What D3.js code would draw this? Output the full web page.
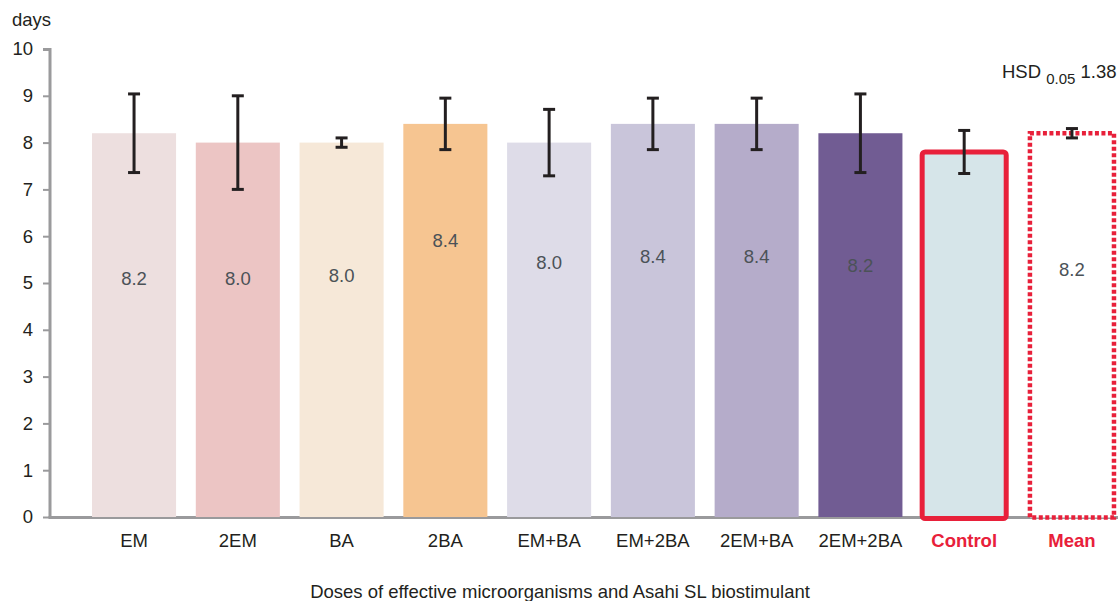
<!DOCTYPE html>
<html>
<head>
<meta charset="utf-8">
<script src="https://cdn.jsdelivr.net/npm/d3@7/dist/d3.min.js"></script>
<style>
  html, body { margin: 0; padding: 0; background: #fff; }
  svg { display: block; font-family: "Liberation Sans", Arial, sans-serif; }
</style>
</head>
<body>
<svg id="chart" width="1118" height="601"></svg>
<script>
// Treatments, mean flowering duration (days) and spread
const categories = ["EM", "2EM", "BA", "2BA", "EM+BA", "EM+2BA", "2EM+BA", "2EM+2BA", "Control", "Mean"];
const values     = [8.2, 8.0, 8.0, 8.4, 8.0, 8.4, 8.4, 8.2, 7.8, 8.2];
const errors     = [0.84, 1.0, 0.1, 0.55, 0.71, 0.55, 0.55, 0.84, 0.46, 0.1];
const showLabel  = [true, true, true, true, true, true, true, true, false, true];
// height (in days) at which each value label sits inside its bar
const labelAt    = [5.1, 5.1, 5.15, 5.9, 5.43, 5.57, 5.57, 5.38, 0, 5.28];
const fills      = ["#eddfdf", "#ecc5c4", "#f6e8d8", "#f6c591", "#dedce8", "#c9c5da", "#b5acca", "#715c93", "#d6e5e9", "#ffffff"];
const yTicks     = [0, 1, 2, 3, 4, 5, 6, 7, 8, 9, 10];
const hsdValue   = 1.38;

const RED = "#e8203a";
const FS = 18.5;
const svg = d3.select("#chart");

const y = d3.scaleLinear().domain([0, 10]).range([517, 49]);
const x = d3.scaleBand().domain(categories).range([50, 1152])
  .paddingInner(0.19).paddingOuter(0.405);

// x axis baseline (drawn first so the outlined bars sit on top of it)
svg.append("line").attr("x1", 48.5).attr("x2", 1118).attr("y1", 517.5).attr("y2", 517.5)
  .attr("stroke", "#9a9a9c").attr("stroke-width", 3);

// bars
const bars = svg.append("g");
categories.forEach((c, i) => {
  const x0 = x(c), w = x.bandwidth();
  const y0 = y(values[i]), h = y(0) - y(values[i]);
  if (c === "Control") {
    bars.append("rect")
      .attr("x", x0).attr("y", y0)
      .attr("width", w).attr("height", h + 1.5)
      .attr("rx", 3)
      .attr("fill", fills[i]).attr("stroke", RED).attr("stroke-width", 5);
  } else if (c === "Mean") {
    bars.append("rect")
      .attr("x", x0 + 4).attr("y", y0)
      .attr("width", w).attr("height", h + 0.5)
      .attr("fill", fills[i]).attr("stroke", RED).attr("stroke-width", 4.5)
      .attr("stroke-dasharray", "4 2.5");
  } else {
    bars.append("rect")
      .attr("x", x0).attr("y", y0)
      .attr("width", w).attr("height", h)
      .attr("fill", fills[i]);
  }
});

// error bars
const shift = c => (c === "Mean" ? 4 : 0);
const eb = svg.append("g").attr("stroke", "#231f20").attr("stroke-width", 3);
categories.forEach((c, i) => {
  const cx = x(c) + x.bandwidth() / 2 + shift(c);
  const hi = y(values[i] + errors[i]), lo = y(values[i] - errors[i]);
  eb.append("line").attr("x1", cx).attr("x2", cx).attr("y1", hi).attr("y2", lo);
  eb.append("line").attr("x1", cx - 6).attr("x2", cx + 6).attr("y1", hi).attr("y2", hi);
  eb.append("line").attr("x1", cx - 6).attr("x2", cx + 6).attr("y1", lo).attr("y2", lo);
});

// value labels
categories.forEach((c, i) => {
  if (!showLabel[i]) return;
  svg.append("text")
    .attr("x", x(c) + x.bandwidth() / 2 + shift(c))
    .attr("y", y(labelAt[i]))
    .attr("dy", "0.35em")
    .attr("text-anchor", "middle")
    .attr("font-size", FS)
    .attr("fill", "#4b5257")
    .text(values[i].toFixed(1));
});

// y axis
const yAxis = d3.axisLeft(y).tickValues(yTicks).tickSize(7).tickPadding(10).tickFormat(d3.format("d"));
const gy = svg.append("g").attr("transform", "translate(50,0)").call(yAxis);
gy.select(".domain").attr("stroke", "#9a9a9c").attr("stroke-width", 3)
  .attr("d", "M-7,49.5H0V517");
gy.selectAll(".tick line").attr("stroke", "#9a9a9c").attr("stroke-width", 2);
gy.selectAll(".tick text").attr("font-size", FS).attr("fill", "#231f20")
  .attr("font-family", "Liberation Sans, Arial, sans-serif");

// category labels
categories.forEach((c, i) => {
  const special = c === "Control" || c === "Mean";
  svg.append("text")
    .attr("x", x(c) + x.bandwidth() / 2 + shift(c))
    .attr("y", 547)
    .attr("text-anchor", "middle")
    .attr("font-size", FS)
    .attr("font-weight", special ? "bold" : "normal")
    .attr("fill", special ? RED : "#231f20")
    .text(c);
});

// axis titles
svg.append("text").attr("x", 12).attr("y", 26).attr("font-size", FS).attr("fill", "#231f20").text("days");
svg.append("text").attr("x", 560).attr("y", 598).attr("text-anchor", "middle")
  .attr("font-size", FS).attr("fill", "#231f20")
  .text("Doses of effective microorganisms and Asahi SL biostimulant");

// HSD annotation
const hsd = svg.append("text").attr("x", 1002).attr("y", 78).attr("font-size", FS).attr("fill", "#231f20");
hsd.append("tspan").text("HSD ");
hsd.append("tspan").attr("font-size", 15).attr("dy", 6).text("0.05");
hsd.append("tspan").attr("dy", -6).text("  " + hsdValue.toFixed(2));
</script>
</body>
</html>
